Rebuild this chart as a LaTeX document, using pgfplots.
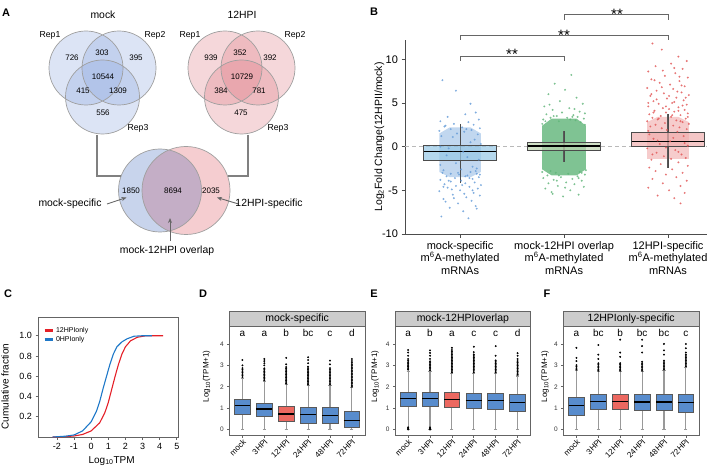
\documentclass[border=0pt]{standalone}
\usepackage{pgfplots}
\pgfplotsset{compat=1.18}
\usepackage{pgfplotstable}
\usepgfplotslibrary{statistics}
\usetikzlibrary{arrows.meta}
\usepackage{fontspec}
\setmainfont{Liberation Sans}

\newcommand{\fs}[2]{\fontsize{#1}{#2}\selectfont}

\definecolor{vennblue}{RGB}{138,165,222}
\definecolor{vennred}{RGB}{222,122,132}
\definecolor{lensL}{RGB}{200,212,236}
\definecolor{lensR}{RGB}{245,205,208}
\definecolor{lensM}{RGB}{196,174,198}
\definecolor{ptblue}{RGB}{100,155,215}
\definecolor{ptgreen}{RGB}{95,180,120}
\definecolor{ptred}{RGB}{225,85,85}
\definecolor{boxblue}{RGB}{150,200,230}
\definecolor{boxgreen}{RGB}{190,212,175}
\definecolor{boxred}{RGB}{240,175,175}
\definecolor{cdfred}{RGB}{228,32,40}
\definecolor{cdfblue}{RGB}{30,120,200}
\definecolor{tpmblue}{RGB}{88,140,205}
\definecolor{tpmred}{RGB}{236,104,96}
\definecolor{stripgray}{RGB}{204,204,204}
\definecolor{framegray}{RGB}{100,100,100}

% jitter points of panel B (offset from group centre, value)
\pgfplotstableread[row sep=\\]{
dx y\\
-0.17 7.6\\ -0.04 6.4\\ 0.10 4.9\\ 0.15 3.9\\ 0.05 3.7\\ -0.12 3.4\\ 0.18 3.1\\ -0.19 2.9\\
0.08 2.8\\ -0.06 2.6\\ 0.13 2.5\\ -0.15 2.3\\ 0.02 2.2\\ 0.19 2.1\\ -0.09 2.0\\ 0.11 1.9\\
-0.20 1.8\\ 0.04 1.7\\ -0.18 1.2\\ 0.14 0.8\\ -0.03 1.5\\ 0.20 0.3\\ -0.11 -0.2\\ 0.07 -1.2\\
-0.19 -2.1\\ 0.16 -2.5\\ 0.08 -8.2\\ -0.18 -8.0\\ 0.03 -7.4\\ -0.10 -7.0\\ 0.15 -6.8\\ -0.02 -6.5\\
0.11 -6.2\\ -0.16 -6.0\\ 0.06 -5.8\\ 0.19 -5.6\\ -0.07 -5.5\\ 0.13 -5.3\\ -0.20 -5.1\\ 0.00 -5.0\\
0.17 -4.8\\ -0.12 -4.7\\ 0.09 -4.6\\ -0.04 -4.5\\ 0.20 -4.4\\ -0.15 -4.3\\ 0.05 -4.2\\ 0.14 -4.1\\
-0.09 -4.0\\ 0.01 -3.9\\ -0.19 -3.8\\ 0.12 -3.7\\ -0.05 -3.6\\ 0.18 -3.5\\ -0.13 -3.4\\ 0.07 -3.3\\
-0.01 -3.2\\ 0.16 -3.1\\ -0.17 -3.0\\ 0.10 -2.9\\ -0.08 -4.9\\ 0.04 -5.4\\ -0.14 -6.3\\ 0.16 -7.1\\
-0.06 -5.9\\ 0.02 -4.4\\ -0.11 -3.9\\ 0.19 -3.2\\ -0.02 -3.0\\ 0.09 -3.6\\ -0.16 -4.6\\ 0.12 -5.0\\
-0.14 2.4\\ 0.06 2.0\\ 0.17 1.4\\ -0.07 1.1\\ 0.10 0.5\\ -0.19 0.0\\ 0.03 -0.6\\ -0.13 -1.0\\
0.18 -1.5\\ -0.04 -1.9\\ 0.12 -2.3\\ -0.16 -2.7\\ 0.01 -2.6\\ 0.15 -2.8\\ -0.09 -3.1\\ 0.05 -3.4\\
}\bluepts
\pgfplotstableread[row sep=\\]{
dx y\\
0.07 8.2\\ -0.09 7.2\\ 0.01 6.5\\ -0.15 6.0\\ 0.12 5.6\\ -0.04 5.2\\ 0.18 4.9\\ -0.19 4.6\\
0.05 4.4\\ -0.11 4.2\\ 0.15 4.0\\ -0.02 3.9\\ 0.20 3.8\\ -0.17 3.7\\ 0.09 3.6\\ -0.07 3.5\\
0.13 3.4\\ -0.13 3.3\\ 0.03 3.3\\ 0.19 3.2\\ -0.20 3.1\\ 0.11 3.0\\ -0.05 2.9\\ 0.16 2.8\\
-0.01 -5.7\\ 0.14 -5.5\\ -0.12 -5.2\\ 0.06 -5.0\\ -0.18 -4.8\\ 0.19 -4.6\\ -0.06 -4.5\\ 0.10 -4.3\\
-0.15 -4.2\\ 0.02 -4.1\\ 0.17 -3.9\\ -0.10 -3.8\\ 0.08 -3.7\\ -0.20 -3.6\\ -0.03 -3.5\\ 0.13 -3.4\\
-0.16 -3.3\\ 0.20 -3.2\\ 0.04 -3.1\\ -0.08 -3.0\\ 0.15 -2.9\\ -0.13 -2.8\\ 0.10 4.3\\ -0.14 4.8\\
0.06 3.1\\ -0.18 2.9\\ 0.17 -3.0\\ -0.05 -3.3\\ 0.01 -4.7\\ -0.11 -5.4\\ 0.20 2.5\\ -0.21 2.6\\
0.21 -2.7\\ -0.21 -2.9\\ 0.08 3.4\\ -0.10 3.5\\ 0.14 -3.6\\ -0.07 -3.9\\
}\greenpts
\pgfplotstableread[row sep=\\]{
dx y\\
-0.15 11.8\\ -0.06 11.1\\ 0.10 10.3\\ 0.18 9.8\\ 0.03 9.5\\ -0.12 9.2\\ 0.14 8.9\\ -0.19 8.6\\
0.07 8.4\\ -0.03 8.1\\ 0.19 7.9\\ -0.16 7.7\\ 0.11 7.5\\ -0.08 7.3\\ 0.02 7.1\\ 0.16 6.9\\
-0.20 6.7\\ 0.05 6.6\\ -0.11 6.4\\ 0.13 6.2\\ -0.04 6.1\\ 0.20 5.9\\ -0.17 5.8\\ 0.08 5.6\\
-0.01 5.5\\ 0.15 5.3\\ -0.14 5.2\\ 0.04 5.0\\ -0.09 4.9\\ 0.18 4.8\\ -0.19 4.6\\ 0.10 4.5\\
-0.05 4.4\\ 0.01 4.3\\ 0.16 4.2\\ -0.13 4.1\\ 0.06 4.0\\ -0.02 3.9\\ 0.19 3.8\\ -0.18 3.7\\
0.12 3.6\\ -0.07 3.5\\ 0.03 3.4\\ -0.15 3.3\\ 0.17 3.2\\ -0.10 3.1\\ 0.08 3.0\\ -0.20 2.9\\
0.14 2.8\\ -0.03 2.7\\ 0.20 2.6\\ -0.12 2.5\\ 0.05 2.4\\ -0.17 2.3\\ 0.11 2.2\\ -0.06 2.1\\
0.18 2.0\\ -0.01 1.9\\ -0.19 1.8\\ 0.09 1.7\\ 0.15 1.2\\ -0.14 0.9\\ 0.02 0.6\\ -0.08 0.3\\
0.19 0.1\\ -0.20 -0.2\\ 0.07 -0.4\\ -0.11 -0.7\\ 0.13 -0.9\\ -0.04 -1.1\\ 0.17 -1.3\\ -0.16 -1.5\\
0.10 -1.8\\ -0.07 -2.0\\ 0.19 -2.2\\ -0.18 -2.4\\ 0.04 -2.6\\ -0.12 -2.8\\ 0.14 -3.0\\ -0.02 -3.2\\
0.08 -3.5\\ -0.15 -3.7\\ 0.18 -3.9\\ -0.05 -4.2\\ 0.12 -4.5\\ -0.19 -4.7\\ 0.01 -5.0\\ 0.16 -5.3\\
-0.10 -5.6\\ 0.06 -5.9\\ 0.12 -6.5\\ 0.13 7.0\\ -0.06 6.8\\ 0.09 6.3\\ -0.16 6.0\\ 0.01 5.8\\
0.17 5.6\\ -0.11 5.4\\ 0.06 5.1\\ -0.19 5.0\\ 0.14 4.7\\ -0.02 4.6\\ 0.10 4.1\\ -0.14 3.9\\
0.04 3.6\\ 0.19 3.4\\ -0.09 3.2\\ 0.12 2.9\\ -0.05 8.7\\ 0.11 8.0\\ -0.13 7.6\\ 0.06 9.0\\
-0.18 1.4\\ 0.05 1.0\\ -0.10 0.7\\ 0.16 0.4\\ -0.02 -0.1\\ 0.10 -0.6\\ -0.15 -0.9\\ 0.03 -1.4\\
}\redpts

\begin{document}
\begin{tikzpicture}
\useasboundingbox (0,0) rectangle (708pt,469pt);

%% ---------------- A: Venn diagrams ----------------
\begin{axis}[at={(0pt,229pt)}, anchor=south west, scale only axis,
    width=300pt, height=240pt, xmin=0, xmax=300, ymin=-240, ymax=0,
    enlargelimits=false, hide axis, clip=false]
  % mock
  \path[fill=vennblue, fill opacity=0.3] (axis cs:86,-68) circle[radius=37pt];
  \path[fill=vennblue, fill opacity=0.3] (axis cs:119,-68) circle[radius=37pt];
  \path[fill=vennblue, fill opacity=0.3] (axis cs:102.5,-97) circle[radius=37pt];
  \draw[gray!75, line width=0.7pt] (axis cs:86,-68) circle[radius=37pt]
     (axis cs:119,-68) circle[radius=37pt] (axis cs:102.5,-97) circle[radius=37pt];
  % 12HPI
  \path[fill=vennred, fill opacity=0.3] (axis cs:225,-68) circle[radius=37pt];
  \path[fill=vennred, fill opacity=0.3] (axis cs:258,-68) circle[radius=37pt];
  \path[fill=vennred, fill opacity=0.3] (axis cs:241.5,-97) circle[radius=37pt];
  \draw[gray!75, line width=0.7pt] (axis cs:225,-68) circle[radius=37pt]
     (axis cs:258,-68) circle[radius=37pt] (axis cs:241.5,-97) circle[radius=37pt];
  % two-set Venn
  \path[fill=lensL] (axis cs:160,-190.5) circle[radius=41.5pt];
  \path[fill=lensR] (axis cs:186,-190.5) circle[radius=44pt];
  \path[fill=lensM] (axis cs:168.89,-149.96) arc[start angle=112.88, end angle=247.12, radius=44pt]
     arc[start angle=-77.63, end angle=77.63, radius=41.5pt] -- cycle;
  \draw[gray!75, line width=0.7pt] (axis cs:160,-190.5) circle[radius=41.5pt]
     (axis cs:186,-190.5) circle[radius=44pt];
  % connectors
  \draw[gray, line width=1.4pt] (axis cs:97,-135) -- (axis cs:97,-176) -- (axis cs:121,-176);
  \draw[gray, line width=1.4pt] (axis cs:248,-135) -- (axis cs:248,-176) -- (axis cs:227.5,-176);
  % arrows
  \draw[black!60, line width=0.9pt, -{Stealth[length=5pt,width=4pt]}] (axis cs:107,-204) -- (axis cs:126.5,-197.5);
  \draw[black!60, line width=0.9pt, -{Stealth[length=5pt,width=4pt]}] (axis cs:238.5,-204) -- (axis cs:217,-197.5);
  \draw[black!60, line width=0.9pt, -{Stealth[length=5pt,width=4pt]}] (axis cs:170,-241) -- (axis cs:170,-218);
  % texts
  \begin{scope}[every node/.style={font=\fs{8}{9}}]
    \node at (axis cs:72,-58) {726};   \node at (axis cs:102,-53) {303};
    \node at (axis cs:136,-58) {395};  \node at (axis cs:103,-77) {10544};
    \node at (axis cs:83,-91) {415};   \node at (axis cs:118,-91) {1309};
    \node at (axis cs:103,-113) {556};
    \node at (axis cs:211,-58) {939};  \node at (axis cs:240,-53) {352};
    \node at (axis cs:270,-58) {392};  \node at (axis cs:242,-77) {10729};
    \node at (axis cs:221,-91) {384};  \node at (axis cs:259,-91) {781};
    \node at (axis cs:241,-113) {475};
    \node at (axis cs:131,-191) {1850}; \node at (axis cs:173,-191) {8694};
    \node at (axis cs:211,-191) {2035};
  \end{scope}
  \begin{scope}[every node/.style={font=\fs{8.7}{10}}]
    \node at (axis cs:50,-35) {Rep1};  \node at (axis cs:155,-35) {Rep2};
    \node at (axis cs:138,-128) {Rep3};
    \node at (axis cs:190,-35) {Rep1}; \node at (axis cs:295,-35) {Rep2};
    \node at (axis cs:278,-128) {Rep3};
  \end{scope}
  \begin{scope}[every node/.style={font=\fs{10.4}{12}}]
    \node at (axis cs:103,-15) {mock};
    \node at (axis cs:242,-15) {12HPI};
    \node at (axis cs:70,-204) {mock-specific};
    \node at (axis cs:269,-204) {12HPI-specific};
    \node at (axis cs:167,-251) {mock-12HPI overlap};
  \end{scope}
\end{axis}

%% ---------------- B: fold change ----------------
\begin{axis}[at={(405pt,235pt)}, anchor=south west, scale only axis,
    width=302pt, height=194pt,
    xmin=-0.53, xmax=2.375, ymin=-10, ymax=12.2,
    axis lines=left, axis line style={-, draw=black!70, line width=0.8pt},
    tick align=outside, major tick length=3.5pt,
    tick style={black!70, line width=0.8pt},
    xtick={0,1,2}, ytick={-10,-5,0,5,10},
    xticklabels={{mock-specific\\m\textsuperscript{6}A-methylated\\mRNAs},
                 {mock-12HPI overlap\\m\textsuperscript{6}A-methylated\\mRNAs},
                 {12HPI-specific\\m\textsuperscript{6}A-methylated\\mRNAs}},
    xticklabel style={align=center, font=\fs{11}{12.6}},
    yticklabel style={font=\fs{11}{13}},
    /pgf/number format/assume math mode=true,
    ylabel={Log\textsubscript{2}Fold Change(12HPII/mock)},
    every axis y label/.style={at={(axis description cs:-0.085,0.5)}, rotate=90, anchor=center, font=\fs{10.5}{12}},
    boxplot/draw direction=y,
    boxplot/every median/.style={black, line width=1.2pt},
    clip=false]
  \addplot[gray!55, line width=0.8pt, dash pattern=on 4pt off 3pt] coordinates {(-0.53,0) (2.375,0)};
  % dense cores of the jitter clouds
  \addplot[draw=none, fill=ptblue, fill opacity=0.4] coordinates
    {(-0.2,-2.9) (-0.2,1.5) (-0.1,2.2) (0.1,2.2) (0.2,1.5) (0.2,-2.9) (0.1,-3.5) (-0.1,-3.5)};
  \addplot[draw=none, fill=ptgreen, fill opacity=0.8] coordinates
    {(0.79,-2.6) (0.79,2.4) (0.88,3.2) (1.12,3.2) (1.21,2.4) (1.21,-2.6) (1.12,-3.3) (0.88,-3.3)};
  \addplot[draw=none, fill=ptred, fill opacity=0.3] coordinates
    {(1.8,-1.4) (1.8,2.8) (1.9,3.4) (2.1,3.4) (2.2,2.8) (2.2,-1.4)};
  \addplot[ptblue, only marks, mark=*, mark size=0.8pt, mark options={draw=ptblue, fill=ptblue, opacity=0.65}]
    table[x expr=\thisrow{dx}, y=y] {\bluepts};
  \addplot[ptgreen, only marks, mark=*, mark size=0.8pt, mark options={draw=ptgreen, fill=ptgreen, opacity=0.65}]
    table[x expr=\thisrow{dx}+1, y=y] {\greenpts};
  \addplot[ptred, only marks, mark=*, mark size=0.8pt, mark options={draw=ptred, fill=ptred, opacity=0.65}]
    table[x expr=\thisrow{dx}+2, y=y] {\redpts};
  % whiskers through the boxes
  \addplot[black!65, line width=1.2pt] coordinates {(0,-4.12) (0,2.6)};
  \addplot[black!65, line width=1.2pt] coordinates {(1,-1.72) (1,1.8)};
  \addplot[black!65, line width=1.2pt] coordinates {(2,-2.4) (2,3.75)};
  \addplot[boxplot prepared={lower whisker=-4.12, lower quartile=-1.6, median=-0.57,
      upper quartile=0.11, upper whisker=2.6, draw position=0, box extend=0.7, whisker extend=0},
      draw=black!70, fill=boxblue, fill opacity=0.7, line width=0.8pt] coordinates {};
  \addplot[boxplot prepared={lower whisker=-1.72, lower quartile=-0.41, median=0.08,
      upper quartile=0.5, upper whisker=1.8, draw position=1, box extend=0.7, whisker extend=0},
      draw=black!70, fill=boxgreen, fill opacity=0.7, line width=0.8pt] coordinates {};
  \addplot[boxplot prepared={lower whisker=-2.4, lower quartile=-0.03, median=0.55,
      upper quartile=1.6, upper whisker=3.75, draw position=2, box extend=0.7, whisker extend=0},
      draw=black!70, fill=boxred, fill opacity=0.7, line width=0.8pt] coordinates {};
  % significance brackets
  \addplot[black!60, line width=0.7pt] coordinates {(1,14.5) (1,15.08) (2,15.08) (2,14.5)};
  \addplot[black!60, line width=0.7pt] coordinates {(0,12.2) (0,12.7) (2,12.7) (2,12.2)};
  \addplot[black!60, line width=0.7pt] coordinates {(0,9.8) (0,10.3) (1,10.3) (1,9.8)};
  \node[font=\fs{15}{15}, anchor=base] at (axis cs:1.51,14.58) {**};
  \node[font=\fs{15}{15}, anchor=base] at (axis cs:1.0,12.18) {**};
  \node[font=\fs{15}{15}, anchor=base] at (axis cs:0.5,10.0) {**};
\end{axis}

%% ---------------- C: cumulative distribution ----------------
\begin{axis}[at={(38pt,32pt)}, anchor=south west, scale only axis,
    width=140pt, height=120pt,
    xmin=-3.1, xmax=5.07, ymin=0, ymax=1.185,
    xtick={-2,-1,0,1,2,3,4,5}, ytick={0.2,0.4,0.6,0.8,1.0},
    yticklabels={0.2,0.4,0.6,0.8,1.0},
    xtick pos=bottom, ytick pos=left,
    tick align=outside, major tick length=2.5pt,
    tick style={framegray, line width=0.7pt},
    axis line style={framegray, line width=0.8pt},
    ticklabel style={font=\fs{9}{10}},
    /pgf/number format/assume math mode=true,
    xlabel={Log\textsubscript{10}TPM}, ylabel={Cumulative fraction},
    every axis x label/.style={at={(axis description cs:0.526,-0.198)}, anchor=center, font=\fs{10}{12}},
    every axis y label/.style={at={(axis description cs:-0.236,0.42)}, rotate=90, anchor=center, font=\fs{10}{12}},
    legend style={at={(0.03,0.94)}, anchor=north west, draw=none, fill=none,
      font=\fs{7}{8}, inner sep=1pt, row sep=-1.5pt},
    legend cell align=left,
    legend image code/.code={\draw[#1, line width=2.6pt] (0pt,0pt) -- (8pt,0pt);}]
  \addplot[cdfred, line width=1.1pt] coordinates {
    (-2.25,0) (-1.5,0.004) (-1.0,0.01) (-0.5,0.025) (0,0.06) (0.5,0.14) (0.8,0.24)
    (1.0,0.34) (1.2,0.47) (1.4,0.6) (1.6,0.72) (1.8,0.82) (2.0,0.89) (2.3,0.95)
    (2.7,0.985) (3.2,1.0) (4.2,1.0)};
  \addplot[cdfblue, line width=1.1pt] coordinates {
    (-2.25,0) (-1.5,0.008) (-1.0,0.02) (-0.5,0.06) (0,0.15) (0.3,0.25) (0.5,0.35)
    (0.7,0.48) (0.9,0.6) (1.1,0.72) (1.3,0.82) (1.5,0.89) (1.8,0.94) (2.1,0.97)
    (2.5,0.995) (3.0,1.0) (3.55,1.0)};
  \legend{12HPIonly, 0HPIonly}
\end{axis}

%% ---------------- D, E, F: TPM boxplots ----------------
\pgfplotsset{tpm/.style={anchor=south west, scale only axis,
    width=135.7pt, height=109.5pt,
    xmin=0.4, xmax=6.6, ymin=-0.28, ymax=4.84,
    xtick={1,2,3,4,5,6}, xticklabels={mock,3HPI,12HPI,24HPI,48HPI,72HPI},
    xticklabel style={rotate=45, anchor=north east, font=\fs{8}{8}, inner sep=0.5pt},
    ytick={0,1,2,3,4}, yticklabel style={font=\fs{6.5}{7}, text=black!80},
    xtick pos=bottom, ytick pos=left,
    tick align=outside, major tick length=2pt,
    tick style={framegray, line width=0.7pt},
    axis line style={framegray, line width=0.8pt},
    /pgf/number format/assume math mode=true,
    ylabel={Log\textsubscript{10}(TPM+1)},
    boxplot/draw direction=y,
    boxplot/every whisker/.style={gray!80, line width=1.1pt},
    boxplot/every median/.style={black, line width=1.3pt},
    clip=false},
  tbox/.style={draw=black!65, line width=0.7pt, fill=tpmblue},
  outl/.style={only marks, mark=*, mark size=0.75pt, black}}

% D
\begin{axis}[tpm, at={(229.3pt,33.5pt)},
    every axis y label/.style={at={(axis description cs:-0.167,0.54)}, rotate=90, anchor=center, font=\fs{8}{9}}]
  \addplot[tbox, boxplot prepared={lower whisker=0, lower quartile=0.70, median=1.12, upper quartile=1.40,
     upper whisker=2.4, draw position=1, box extend=0.72, whisker extend=0.14}] coordinates {};
  \addplot[tbox, boxplot prepared={lower whisker=0, lower quartile=0.62, median=0.96, upper quartile=1.24,
     upper whisker=2.25, draw position=2, box extend=0.72, whisker extend=0.14}] coordinates {};
  \addplot[tbox, fill=tpmred, boxplot prepared={lower whisker=0, lower quartile=0.37, median=0.73, upper quartile=1.09,
     upper whisker=2.1, draw position=3, box extend=0.72, whisker extend=0.14}] coordinates {};
  \addplot[tbox, boxplot prepared={lower whisker=0, lower quartile=0.31, median=0.70, upper quartile=1.05,
     upper whisker=2.05, draw position=4, box extend=0.72, whisker extend=0.14}] coordinates {};
  \addplot[tbox, boxplot prepared={lower whisker=0, lower quartile=0.31, median=0.67, upper quartile=1.04,
     upper whisker=2.05, draw position=5, box extend=0.72, whisker extend=0.14}] coordinates {};
  \addplot[tbox, boxplot prepared={lower whisker=0, lower quartile=0.11, median=0.43, upper quartile=0.85,
     upper whisker=1.95, draw position=6, box extend=0.72, whisker extend=0.14}] coordinates {};
  \addplot[outl] coordinates {
    (1,2.45)(1,2.52)(1,2.59)(1,2.66)(1,2.73)(1,2.8)(1,2.87)(1,3.0)(1,3.25)
    (2,2.3)(2,2.37)(2,2.44)(2,2.51)(2,2.58)(2,2.65)(2,2.72)(2,2.79)(2,2.86)(2,3.0)(2,3.1)(2,3.2)(2,3.3)
    (3,2.15)(3,2.22)(3,2.29)(3,2.36)(3,2.43)(3,2.5)(3,2.57)(3,2.64)(3,2.71)(3,2.78)(3,2.85)(3,2.92)(3,3.05)(3,3.35)
    (4,2.1)(4,2.17)(4,2.24)(4,2.31)(4,2.38)(4,2.45)(4,2.52)(4,2.59)(4,2.66)(4,2.73)(4,2.8)(4,2.87)(4,2.94)(4,3.1)(4,3.25)(4,3.38)
    (5,2.1)(5,2.17)(5,2.24)(5,2.31)(5,2.38)(5,2.45)(5,2.52)(5,2.59)(5,2.66)(5,2.73)(5,2.8)(5,2.87)(5,3.05)(5,3.22)
    (6,2.0)(6,2.07)(6,2.14)(6,2.21)(6,2.28)(6,2.35)(6,2.42)(6,2.49)(6,2.56)(6,2.63)(6,2.7)(6,2.77)(6,2.84)(6,2.91)(6,2.98)(6,3.05)(6,3.12)(6,3.2)(6,3.3)};
  \draw[framegray, line width=0.8pt, fill=stripgray] (axis cs:0.4,4.84) rectangle (axis cs:6.6,5.5);
  \node[font=\fs{10.5}{12}] at (axis cs:3.5,5.17) {mock-specific};
  \begin{scope}[every node/.style={font=\fs{10}{10}, anchor=base}]
    \node at (axis cs:1,4.37) {a}; \node at (axis cs:2,4.37) {a}; \node at (axis cs:3,4.37) {b};
    \node at (axis cs:4,4.37) {bc}; \node at (axis cs:5,4.37) {c}; \node at (axis cs:6,4.37) {d};
  \end{scope}
\end{axis}

% E
\begin{axis}[tpm, at={(395pt,33.5pt)},
    every axis y label/.style={at={(axis description cs:-0.147,0.54)}, rotate=90, anchor=center, font=\fs{8}{9}}]
  \addplot[tbox, boxplot prepared={lower whisker=0, lower quartile=1.09, median=1.44, upper quartile=1.75,
     upper whisker=2.73, draw position=1, box extend=0.72, whisker extend=0.14}] coordinates {};
  \addplot[tbox, boxplot prepared={lower whisker=0, lower quartile=1.08, median=1.44, upper quartile=1.75,
     upper whisker=2.7, draw position=2, box extend=0.72, whisker extend=0.14}] coordinates {};
  \addplot[tbox, fill=tpmred, boxplot prepared={lower whisker=0, lower quartile=1.02, median=1.41, upper quartile=1.72,
     upper whisker=2.6, draw position=3, box extend=0.72, whisker extend=0.14}] coordinates {};
  \addplot[tbox, boxplot prepared={lower whisker=0, lower quartile=0.97, median=1.36, upper quartile=1.70,
     upper whisker=2.6, draw position=4, box extend=0.72, whisker extend=0.14}] coordinates {};
  \addplot[tbox, boxplot prepared={lower whisker=0, lower quartile=0.94, median=1.36, upper quartile=1.69,
     upper whisker=2.6, draw position=5, box extend=0.72, whisker extend=0.14}] coordinates {};
  \addplot[tbox, boxplot prepared={lower whisker=0, lower quartile=0.83, median=1.25, upper quartile=1.63,
     upper whisker=2.5, draw position=6, box extend=0.72, whisker extend=0.14}] coordinates {};
  \addplot[outl] coordinates {
    (1,0.0)(1,0.05)(1,0.1)(2,0.0)(2,0.05)(2,0.1)
    (1,2.8)(1,2.87)(1,2.94)(1,3.01)(1,3.08)(1,3.15)(1,3.22)(1,3.3)(1,3.45)(1,3.6)(1,3.72)
    (2,2.77)(2,2.84)(2,2.91)(2,2.98)(2,3.05)(2,3.12)(2,3.19)(2,3.3)(2,3.45)(2,3.58)(2,3.7)
    (3,2.67)(3,2.74)(3,2.81)(3,2.88)(3,2.95)(3,3.02)(3,3.09)(3,3.16)(3,3.23)(3,3.3)(3,3.37)(3,3.44)(3,3.51)(3,3.58)(3,3.65)(3,3.72)(3,3.82)
    (4,2.67)(4,2.74)(4,2.81)(4,2.88)(4,2.95)(4,3.02)(4,3.09)(4,3.16)(4,3.23)(4,3.3)(4,3.37)(4,3.44)(4,3.51)(4,3.62)(4,3.87)
    (5,2.67)(5,2.74)(5,2.81)(5,2.88)(5,2.95)(5,3.02)(5,3.09)(5,3.16)(5,3.23)(5,3.45)(5,3.9)
    (6,2.57)(6,2.64)(6,2.71)(6,2.78)(6,2.85)(6,2.92)(6,2.99)(6,3.06)(6,3.13)(6,3.2)(6,3.3)(6,3.45)(6,3.57)};
  \draw[framegray, line width=0.8pt, fill=stripgray] (axis cs:0.4,4.84) rectangle (axis cs:6.6,5.5);
  \node[font=\fs{10.5}{12}] at (axis cs:3.5,5.17) {mock-12HPIoverlap};
  \begin{scope}[every node/.style={font=\fs{10}{10}, anchor=base}]
    \node at (axis cs:1,4.37) {a}; \node at (axis cs:2,4.37) {b}; \node at (axis cs:3,4.37) {a};
    \node at (axis cs:4,4.37) {c}; \node at (axis cs:5,4.37) {c}; \node at (axis cs:6,4.37) {d};
  \end{scope}
\end{axis}

% F
\begin{axis}[tpm, at={(563.3pt,33.5pt)},
    every axis y label/.style={at={(axis description cs:-0.135,0.54)}, rotate=90, anchor=center, font=\fs{8}{9}}]
  \addplot[tbox, boxplot prepared={lower whisker=0, lower quartile=0.65, median=1.12, upper quartile=1.50,
     upper whisker=2.75, draw position=1, box extend=0.72, whisker extend=0.14}] coordinates {};
  \addplot[tbox, boxplot prepared={lower whisker=0, lower quartile=0.93, median=1.30, upper quartile=1.63,
     upper whisker=2.7, draw position=2, box extend=0.72, whisker extend=0.14}] coordinates {};
  \addplot[tbox, fill=tpmred, boxplot prepared={lower whisker=0, lower quartile=0.93, median=1.32, upper quartile=1.66,
     upper whisker=2.7, draw position=3, box extend=0.72, whisker extend=0.14}] coordinates {};
  \addplot[tbox, boxplot prepared={lower whisker=0, lower quartile=0.88, median=1.29, upper quartile=1.63,
     upper whisker=2.7, draw position=4, box extend=0.72, whisker extend=0.14}] coordinates {};
  \addplot[tbox, boxplot prepared={lower whisker=0, lower quartile=0.88, median=1.29, upper quartile=1.63,
     upper whisker=2.75, draw position=5, box extend=0.72, whisker extend=0.14}] coordinates {};
  \addplot[tbox, boxplot prepared={lower whisker=0, lower quartile=0.80, median=1.27, upper quartile=1.66,
     upper whisker=2.9, draw position=6, box extend=0.72, whisker extend=0.14}] coordinates {};
  \addplot[outl] coordinates {
    (1,2.8)(1,2.87)(1,2.94)(1,3.01)(1,3.2)(1,3.35)(1,3.82)
    (2,2.75)(2,2.82)(2,2.89)(2,2.96)(2,3.03)(2,3.1)(2,3.3)(2,3.5)(2,3.95)
    (3,2.75)(3,2.82)(3,2.89)(3,2.96)(3,3.03)(3,3.1)(3,3.4)(3,3.6)(3,4.2)
    (4,2.75)(4,2.82)(4,2.89)(4,2.96)(4,3.03)(4,3.1)(4,3.17)(4,3.6)(4,3.9)(4,4.2)
    (5,2.8)(5,2.87)(5,2.94)(5,3.01)(5,3.08)(5,3.15)(5,3.22)(5,3.5)(5,3.7)(5,4.0)
    (6,2.95)(6,3.02)(6,3.09)(6,3.16)(6,3.23)(6,3.3)(6,3.37)(6,3.44)(6,3.51)(6,3.6)(6,3.8)(6,4.0)};
  \draw[framegray, line width=0.8pt, fill=stripgray] (axis cs:0.4,4.84) rectangle (axis cs:6.6,5.5);
  \node[font=\fs{10.5}{12}] at (axis cs:3.5,5.17) {12HPIonly-specific};
  \begin{scope}[every node/.style={font=\fs{10}{10}, anchor=base}]
    \node at (axis cs:1,4.37) {a}; \node at (axis cs:2,4.37) {bc}; \node at (axis cs:3,4.37) {b};
    \node at (axis cs:4,4.37) {bc}; \node at (axis cs:5,4.37) {bc}; \node at (axis cs:6,4.37) {c};
  \end{scope}
\end{axis}

%% panel letters
\begin{scope}[every node/.style={font=\bfseries\fs{11}{12}}]
  \node at (6pt,456pt) {A};
  \node at (374pt,457pt) {B};
  \node at (8pt,175pt) {C};
  \node at (203pt,175pt) {D};
  \node at (374pt,175pt) {E};
  \node at (547pt,175pt) {F};
\end{scope}
\end{tikzpicture}
\end{document}
